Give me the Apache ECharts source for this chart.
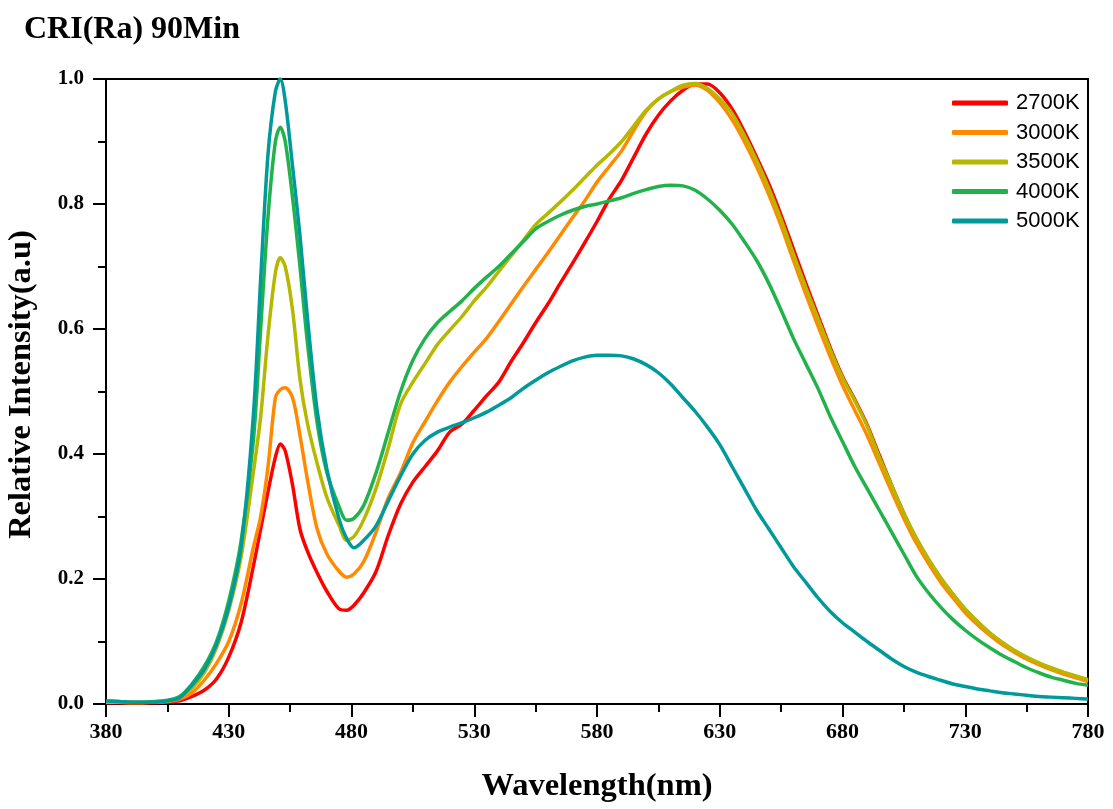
<!DOCTYPE html>
<html>
<head>
<meta charset="utf-8">
<script src="https://cdn.jsdelivr.net/npm/echarts@6/dist/echarts.min.js"></script>
<style>
html,body{margin:0;padding:0;background:#fff;}
#chart{width:1113px;height:809px;}
</style>
</head>
<body>
<div id="chart"></div>
<script>
var wavelength = [380,385,390,395,400,405,410,415,420,425,430,435,440,
443,446,449,451,453,456,459,462,466,470,475,478,481,485,
490,495,500,505,510,515,520,525,530,535,540,545,550,555,560,565,570,575,580,585,590,595,600,605,610,615,620,625,630,635,640,645,650,655,660,665,670,675,680,685,690,695,700,705,710,715,720,725,730,735,740,745,750,755,760,765,770,775,780];

var seriesNames = ['2700K','3000K','3500K','4000K','5000K'];
var seriesColors = ['#ff0000','#ff8a00','#b6b800','#22b24c','#009a9a'];

var s2700 = [0.002,0.002,0.002,0.002,0.002,0.003,0.005,0.012,0.022,0.04,0.075,0.13,0.22,
0.28,0.34,0.395,0.416,0.405,0.35,0.28,0.245,0.21,0.18,0.152,0.15,0.158,0.178,
0.212,0.27,0.32,0.355,0.38,0.405,0.435,0.448,0.47,0.493,0.515,0.548,0.578,0.61,0.64,0.673,0.705,0.738,0.772,0.808,0.838,0.875,0.912,0.942,0.965,0.982,0.992,0.992,0.978,0.952,0.916,0.875,0.832,0.782,0.728,0.674,0.622,0.57,0.524,0.487,0.447,0.398,0.35,0.305,0.265,0.231,0.201,0.175,0.151,0.131,0.113,0.098,0.085,0.074,0.065,0.057,0.05,0.044,0.038];

var s3000 = [0.003,0.003,0.002,0.002,0.003,0.004,0.008,0.018,0.038,0.065,0.1,0.16,0.25,
0.3,0.38,0.49,0.503,0.506,0.49,0.43,0.36,0.28,0.24,0.212,0.203,0.208,0.228,
0.275,0.33,0.37,0.418,0.452,0.485,0.515,0.54,0.563,0.585,0.612,0.64,0.668,0.695,0.722,0.75,0.778,0.805,0.835,0.86,0.885,0.918,0.948,0.968,0.98,0.987,0.99,0.982,0.962,0.935,0.9,0.86,0.815,0.765,0.71,0.656,0.605,0.556,0.51,0.47,0.43,0.385,0.34,0.297,0.258,0.225,0.195,0.17,0.146,0.127,0.11,0.095,0.083,0.072,0.063,0.055,0.048,0.042,0.036];

var s3500 = [0.004,0.003,0.003,0.003,0.003,0.005,0.01,0.025,0.05,0.09,0.15,0.235,0.37,
0.46,0.59,0.69,0.714,0.7,0.63,0.52,0.45,0.385,0.33,0.285,0.262,0.268,0.295,
0.345,0.41,0.48,0.515,0.545,0.575,0.598,0.62,0.645,0.667,0.692,0.717,0.742,0.767,0.785,0.803,0.822,0.842,0.862,0.88,0.9,0.925,0.95,0.968,0.98,0.99,0.993,0.985,0.968,0.945,0.91,0.87,0.825,0.775,0.72,0.667,0.617,0.567,0.522,0.485,0.445,0.395,0.35,0.305,0.266,0.232,0.202,0.176,0.152,0.132,0.114,0.099,0.086,0.075,0.066,0.058,0.051,0.045,0.039];

var s4000 = [0.005,0.004,0.003,0.003,0.004,0.006,0.012,0.032,0.06,0.1,0.165,0.26,0.42,
0.6,0.78,0.9,0.923,0.9,0.81,0.7,0.58,0.45,0.37,0.315,0.294,0.297,0.318,
0.37,0.435,0.5,0.55,0.585,0.61,0.628,0.645,0.665,0.683,0.7,0.72,0.74,0.76,0.772,0.782,0.79,0.796,0.8,0.805,0.81,0.817,0.823,0.828,0.83,0.829,0.822,0.808,0.79,0.768,0.74,0.71,0.673,0.63,0.585,0.545,0.505,0.46,0.42,0.38,0.345,0.31,0.275,0.24,0.205,0.178,0.155,0.135,0.118,0.103,0.09,0.078,0.068,0.058,0.05,0.043,0.038,0.033,0.03];

var s5000 = [0.005,0.004,0.003,0.003,0.003,0.005,0.01,0.03,0.055,0.095,0.155,0.25,0.46,
0.68,0.88,0.98,1.0,0.965,0.86,0.75,0.62,0.47,0.375,0.295,0.265,0.25,0.262,
0.285,0.325,0.365,0.4,0.422,0.435,0.443,0.45,0.458,0.467,0.478,0.49,0.505,0.518,0.53,0.54,0.549,0.555,0.558,0.558,0.557,0.552,0.543,0.53,0.512,0.49,0.468,0.443,0.415,0.38,0.345,0.31,0.28,0.25,0.22,0.195,0.17,0.148,0.13,0.115,0.1,0.086,0.072,0.06,0.051,0.044,0.038,0.032,0.028,0.024,0.021,0.018,0.016,0.014,0.012,0.011,0.01,0.009,0.008];

var seriesValues = [s2700, s3000, s3500, s4000, s5000];

var serif = '"Liberation Serif","Times New Roman",serif';
var sans = '"Liberation Sans",Arial,sans-serif';

var chart = echarts.init(document.getElementById('chart'));
chart.setOption({
  animation: false,
  backgroundColor: '#fff',
  title: {
    text: 'CRI(Ra) 90Min',
    left: 19, top: 9,
    textStyle: {fontFamily: serif, fontWeight: 'bold', fontSize: 32, color: '#000'}
  },
  legend: {
    orient: 'vertical',
    left: 947, top: 87,
    icon: 'roundRect',
    itemWidth: 56, itemHeight: 5,
    itemGap: 7.5,
    data: seriesNames,
    textStyle: {fontFamily: sans, fontSize: 22, lineHeight: 22, color: '#000', padding: [0,0,0,3]}
  },
  grid: {
    left: 106, right: 25, top: 79, bottom: 105,
    outerBoundsMode: 'none',
    containLabel: false,
    show: true, borderColor: '#000', borderWidth: 2, backgroundColor: 'transparent'
  },
  xAxis: {
    type: 'value', min: 380, max: 780, interval: 50,
    name: 'Wavelength(nm)', nameLocation: 'middle', nameGap: 66,
    nameTextStyle: {fontFamily: serif, fontWeight: 'bold', fontSize: 32.5, color: '#000'},
    axisLine: {show: true, lineStyle: {color: '#000', width: 2}},
    axisTick: {show: true, inside: false, length: 13, lineStyle: {color: '#000', width: 2}},
    minorTick: {show: true, splitNumber: 2, length: 8, lineStyle: {color: '#000', width: 2}},
    axisLabel: {fontFamily: serif, fontWeight: 'bold', fontSize: 22, color: '#000', margin: 17},
    splitLine: {show: false}
  },
  yAxis: {
    type: 'value', min: 0, max: 1, interval: 0.2,
    name: 'Relative Intensity(a.u)', nameLocation: 'middle', nameGap: 68,
    nameTextStyle: {fontFamily: serif, fontWeight: 'bold', fontSize: 32.5, color: '#000', padding: [0,0,0,14]},
    axisLine: {show: true, lineStyle: {color: '#000', width: 2}},
    axisTick: {show: true, inside: false, length: 13, lineStyle: {color: '#000', width: 2}},
    minorTick: {show: true, splitNumber: 2, length: 8, lineStyle: {color: '#000', width: 2}},
    axisLabel: {fontFamily: serif, fontWeight: 'bold', fontSize: 21, color: '#000', margin: 22,
      formatter: function (v) { return v.toFixed(1); }},
    splitLine: {show: false}
  },
  series: seriesNames.map(function (name, k) {
    return {
      name: name,
      type: 'line',
      showSymbol: false,
      smooth: 0.3,
      color: seriesColors[k],
      lineStyle: {width: 3.5, color: seriesColors[k]},
      data: wavelength.map(function (w, i) { return [w, seriesValues[k][i]]; })
    };
  })
});
</script>
</body>
</html>
